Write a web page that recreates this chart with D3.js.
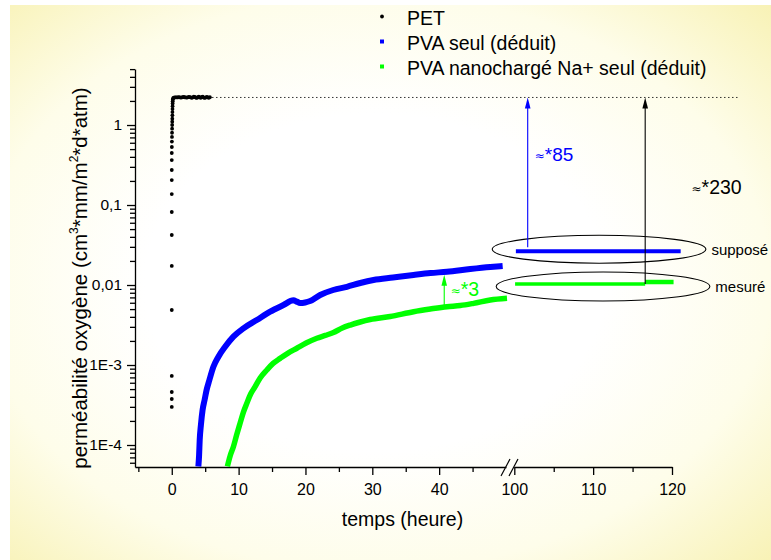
<!DOCTYPE html>
<html>
<head>
<meta charset="utf-8">
<script src="https://cdn.jsdelivr.net/npm/d3@7"></script>
<style>
  html, body { margin: 0; padding: 0; background: #ffffff; }
  svg { display: block; font-family: "Liberation Sans", Arial, sans-serif; }
</style>
</head>
<body>
<svg id="chart" width="771" height="560"></svg>
<script>
// ---- Data -------------------------------------------------------------
// PET (measured): time in hours, permeability
const petTime = [0, 0, 0, 0, 0, 0, 0, 0, 0, 0, 0, 0, 0, 0.01,
  0.02, 0.03, 0.04, 0.05, 0.06, 0.07, 0.08, 0.09, 0.1, 0.11, 0.12, 0.13, 0.14, 0.16, 0.2,
  0.3, 0.45, 0.6, 0.75, 0.9, 1.05, 1.2, 1.35, 1.5, 1.65, 1.8, 1.95, 2.1, 2.25, 2.4, 2.55,
  2.7, 2.85, 3.0, 3.15, 3.3, 3.45, 3.6, 3.75, 3.9, 4.05, 4.2, 4.35, 4.5, 4.65, 4.8, 4.95,
  5.1, 5.25, 5.4, 5.55, 5.7];
const petValue = [2.99e-4, 3.76e-4, 4.6e-4, 7.3e-4, 4.87e-3, 0.0173, 0.0422, 0.0818, 0.137,
  0.205, 0.274, 0.365, 0.447, 0.531,
  0.62, 0.71, 0.8, 0.9, 1.0, 1.1, 1.2, 1.32, 1.45, 1.58, 1.72, 1.86, 1.98, 2.08, 2.16,
  2.2, 2.21, 2.22, 2.22, 2.21, 2.23, 2.22, 2.2, 2.21, 2.23, 2.24, 2.22, 2.21, 2.2, 2.22, 2.25,
  2.23, 2.21, 2.19, 2.22, 2.26, 2.24, 2.2, 2.18, 2.23, 2.27, 2.21, 2.19, 2.24, 2.26, 2.2, 2.18,
  2.22, 2.25, 2.21, 2.19, 2.23];

// PVA seul (déduit)
const pvaTime = [3.98, 4.09, 4.18, 4.36, 4.61, 4.91, 5.21, 5.63, 6.23, 6.98, 7.98, 9.22,
  10.72, 12.72, 14.72, 16.71, 18.2, 18.7, 19.2, 19.96, 20.7, 22.2, 24.15, 26.2, 28.2,
  30.18, 33.1, 36.17, 38.7, 41.17, 44.66, 47.65, 49.5];
const pvaValue = [5.4e-5, 7.5e-5, 1.155e-4, 1.78e-4, 2.74e-4, 3.65e-4, 4.87e-4, 6.5e-4,
  9.5e-4, 1.27e-3, 1.69e-3, 2.26e-3, 2.87e-3, 3.65e-3, 4.64e-3, 5.62e-3, 6.45e-3, 6.2e-3,
  5.95e-3, 6.05e-3, 6.3e-3, 7.5e-3, 8.66e-3, 9.5e-3, 0.0106, 0.01155, 0.0124, 0.01334,
  0.0141, 0.01466, 0.01585, 0.0168, 0.01729];

// PVA nanochargé Na+ seul (déduit)
const nanoTime = [8.32, 8.73, 9.22, 9.7, 10.22, 10.72, 11.23, 11.8, 12.47, 13.22, 14.22,
  15.16, 16.21, 17.4, 18.71, 20.1, 21.7, 22.95, 24.19, 25.5, 26.7, 28.2, 29.68, 32.67,
  36.17, 38.67, 41.17, 43.16, 45.15, 47.65, 50.15];
const nanoValue = [5.4e-5, 7.29e-5, 9.52e-5, 1.33e-4, 1.87e-4, 2.58e-4, 3.32e-4, 4.34e-4,
  5.36e-4, 6.88e-4, 8.66e-4, 1.047e-3, 1.21e-3, 1.41e-3, 1.62e-3, 1.88e-3, 2.16e-3,
  2.34e-3, 2.55e-3, 2.9e-3, 3.16e-3, 3.45e-3, 3.7e-3, 4.04e-3, 4.64e-3, 5.01e-3, 5.36e-3,
  5.54e-3, 5.9e-3, 6.49e-3, 6.82e-3];

// Axis ticks
const xTicksLeft = [0, 10, 20, 30, 40];
const xMinorLeft = [-5, 5, 15, 25, 35, 45];
const xTicksRight = [100, 110, 120];
const xMinorRight = [105, 115];
const yTicks = [1e-4, 1e-3, 1e-2, 1e-1, 1];
const yTickLabels = ["1E-4", "1E-3", "0,01", "0,1", "1"];

// Legend
const legendLabels = ["PET", "PVA seul (déduit)", "PVA nanochargé Na+ seul (déduit)"];

// Reference levels used by the annotations
const petPlateau = 2.21;          // PET steady state
const supposeValue = 0.0265;      // PVA seul, expected
const mesureValue = [0.0103, 0.0109]; // PVA nanochargé, measured
const ratioLabels = ["*85", "*230", "*3"];

// ---- Layout -------------------------------------------------------------
const W = 771, H = 560;
const plot = { left: 135, right: 672, top: 69.1, bottom: 467 };
const FONT = '"Liberation Sans", Arial, sans-serif';
const BLUE = "#0000ff", GREEN = "#00ff00";

const svg = d3.select("#chart");

// Background: white centre fading to pale yellow at the edges
const defs = svg.append("defs");
const grad = defs.append("radialGradient").attr("id", "bg")
  .attr("cx", "48%").attr("cy", "50%").attr("r", "72%");
grad.append("stop").attr("offset", "0").attr("stop-color", "#ffffff");
grad.append("stop").attr("offset", "0.42").attr("stop-color", "#ffffff");
grad.append("stop").attr("offset", "0.72").attr("stop-color", "#fefdea");
grad.append("stop").attr("offset", "1").attr("stop-color", "#f8f2b6");
svg.append("rect").attr("x", 10).attr("y", 5).attr("width", W - 10).attr("height", H - 5)
  .attr("fill", "url(#bg)");

// ---- Scales (broken x axis) ----------------------------------------------
const xLeft = d3.scaleLinear().domain([-5.5, 50]).range([plot.left, 506]);
const xRight = d3.scaleLinear().domain([100, 120]).range([514.3, plot.right]);
const y = d3.scaleLog().domain([Math.pow(10, -4.275), 5]).range([plot.bottom, plot.top]);

// ---- Axes ---------------------------------------------------------------
function styleAxis(g, size) {
  g.selectAll("path, line").attr("stroke", "#000").attr("stroke-width", 1.3);
  g.selectAll("text").attr("font-family", FONT).attr("font-size", size).attr("fill", "#000");
}

function xAxis(scale, major, minor) {
  const gMaj = svg.append("g").attr("transform", `translate(0,${plot.bottom})`)
    .call(d3.axisBottom(scale).tickValues(major).tickSize(8).tickSizeOuter(0)
      .tickFormat(d3.format("d")));
  styleAxis(gMaj, 16);
  gMaj.selectAll("text").attr("y", 27.5).attr("dy", null);
  const gMin = svg.append("g").attr("transform", `translate(0,${plot.bottom})`)
    .call(d3.axisBottom(scale).tickValues(minor).tickSize(5).tickFormat(() => ""));
  gMin.select(".domain").remove();
  styleAxis(gMin, 16);
}
xAxis(xLeft, xTicksLeft, xMinorLeft);
xAxis(xRight, xTicksRight, xMinorRight);

// Axis break marks
const breakMarks = svg.append("g").attr("stroke", "#000").attr("stroke-width", 1.2);
[xLeft(50) - 0.5, xRight(100) - 0.8].forEach(cx => {
  breakMarks.append("line")
    .attr("x1", cx - 4.5).attr("y1", plot.bottom + 9)
    .attr("x2", cx + 4.5).attr("y2", plot.bottom - 8);
});

const gy = svg.append("g").attr("transform", `translate(${plot.left},0)`)
  .call(d3.axisLeft(y).tickValues(yTicks).tickFormat((d, i) => yTickLabels[i])
    .tickSize(8).tickPadding(5).tickSizeOuter(0));
styleAxis(gy, 15.5);

const yMinor = [];
for (let e = -5; e <= 0; e++) {
  for (let m = 2; m <= 9; m++) {
    const v = m * Math.pow(10, e);
    if (v >= y.domain()[0] && v <= y.domain()[1] * 1.0001) yMinor.push(v);
  }
}
const gyMin = svg.append("g").attr("transform", `translate(${plot.left},0)`)
  .call(d3.axisLeft(y).tickValues(yMinor).tickSize(5).tickFormat(() => ""));
gyMin.select(".domain").remove();
styleAxis(gyMin, 15.5);

// Axis titles
svg.append("text")
  .attr("x", (plot.left + plot.right) / 2 - 1).attr("y", 526)
  .attr("text-anchor", "middle").attr("font-family", FONT).attr("font-size", 19.5)
  .text("temps (heure)");

const yTitle = svg.append("text")
  .attr("transform", "translate(87,278) rotate(-90)")
  .attr("text-anchor", "middle").attr("font-family", FONT).attr("font-size", 20.5);
yTitle.append("tspan").text("perméabilité oxygène (cm");
yTitle.append("tspan").attr("font-size", 12).attr("dy", -9).text("3");
yTitle.append("tspan").attr("dy", 9).text("*mm/m");
yTitle.append("tspan").attr("font-size", 12).attr("dy", -9).text("2");
yTitle.append("tspan").attr("dy", 9).text("*d*atm)");

// ---- Series ---------------------------------------------------------------
const pet = petTime.map((t, i) => ({ t, v: petValue[i] }));
const pva = pvaTime.map((t, i) => ({ t, v: pvaValue[i] }));
const nano = nanoTime.map((t, i) => ({ t, v: nanoValue[i] }));

const line = d3.line().x(d => xLeft(d.t)).y(d => y(d.v)).curve(d3.curveMonotoneX);

svg.append("path").datum(nano).attr("d", line)
  .attr("fill", "none").attr("stroke", GREEN).attr("stroke-width", 5.5)
  .attr("stroke-linejoin", "round");
svg.append("path").datum(pva).attr("d", line)
  .attr("fill", "none").attr("stroke", BLUE).attr("stroke-width", 6)
  .attr("stroke-linejoin", "round");

svg.append("g").selectAll("circle").data(pet).join("circle")
  .attr("cx", d => xLeft(d.t)).attr("cy", d => y(d.v)).attr("r", 1.9).attr("fill", "#000");

// ---- Annotations ------------------------------------------------------------
function arrow(x, yFrom, yTo, color) {
  const g = svg.append("g");
  g.append("line").attr("x1", x).attr("x2", x).attr("y1", yFrom).attr("y2", yTo + 8)
    .attr("stroke", color).attr("stroke-width", 1.1);
  g.append("path")
    .attr("d", `M${x},${yTo} L${x - 2.8},${yTo + 11} L${x + 2.8},${yTo + 11} Z`)
    .attr("fill", color);
}

// PET level reference (dotted)
svg.append("line")
  .attr("x1", xLeft(6.05)).attr("x2", xRight(128.6))
  .attr("y1", y(petPlateau)).attr("y2", y(petPlateau))
  .attr("stroke", "#000").attr("stroke-width", 1).attr("stroke-dasharray", "1.2,2.8");

// Expected / measured levels on the right side of the break
svg.append("line")
  .attr("x1", xRight(100.2)).attr("x2", xRight(121.1))
  .attr("y1", y(supposeValue)).attr("y2", y(supposeValue))
  .attr("stroke", BLUE).attr("stroke-width", 4);
svg.append("line")
  .attr("x1", xRight(100.1)).attr("x2", xRight(116.6))
  .attr("y1", y(mesureValue[0])).attr("y2", y(mesureValue[0]))
  .attr("stroke", GREEN).attr("stroke-width", 3.5);
svg.append("line")
  .attr("x1", xRight(116.6)).attr("x2", xRight(120.2))
  .attr("y1", y(mesureValue[1])).attr("y2", y(mesureValue[1]))
  .attr("stroke", GREEN).attr("stroke-width", 4.5);

// Ellipses around the two levels
function ringAround(t0, t1, v0, v1) {
  const xa = xRight(t0), xb = xRight(t1), ya = y(v1), yb = y(v0);
  svg.append("ellipse")
    .attr("cx", (xa + xb) / 2).attr("cy", (ya + yb) / 2)
    .attr("rx", (xb - xa) / 2).attr("ry", (yb - ya) / 2)
    .attr("fill", "none").attr("stroke", "#000").attr("stroke-width", 1.1);
  return { right: xb, cy: (ya + yb) / 2 };
}
const ringS = ringAround(97.2, 124.3, 0.0187, 0.0418);
const ringM = ringAround(97.7, 124.8, 0.00631, 0.01454);

svg.append("text").attr("x", ringS.right + 5.5).attr("y", ringS.cy).attr("dy", "0.4em")
  .attr("font-family", FONT).attr("font-size", 15).text("supposé");
svg.append("text").attr("x", ringM.right + 5.5).attr("y", ringM.cy).attr("dy", "0.35em")
  .attr("font-family", FONT).attr("font-size", 15).text("mesuré");

// Ratio arrows
const xBlueArrow = xRight(101.7), xBlackArrow = xRight(116.6), xGreenArrow = xLeft(40.76);
arrow(xBlueArrow, y(supposeValue) - 4, y(petPlateau), BLUE);
arrow(xBlackArrow, y(mesureValue[0]), y(petPlateau), "#000");
arrow(xGreenArrow, y(5.3e-3), y(0.0146) + 3, GREEN);

function ratioText(x, yBase, label, color, size) {
  const t = svg.append("text").attr("x", x).attr("y", yBase)
    .attr("font-family", FONT).attr("fill", color);
  t.append("tspan").attr("font-family", "DejaVu Sans").attr("font-size", 12)
    .attr("dy", -1).text("≈");
  t.append("tspan").attr("font-size", size).attr("dy", 1).text(label);
}
ratioText(xBlueArrow + 7, 161, ratioLabels[0], BLUE, 19);
ratioText(691.5, 193.5, ratioLabels[1], "#000", 19.5);
ratioText(xGreenArrow + 6.5, 295.7, ratioLabels[2], GREEN, 19.5);

// ---- Legend -------------------------------------------------------------------
const legendColors = ["#000", BLUE, GREEN];
const legend = svg.append("g");
legendLabels.forEach((label, i) => {
  const cy = 16.5 + i * 25;
  if (i === 0) {
    legend.append("circle").attr("cx", 382).attr("cy", cy).attr("r", 1.9).attr("fill", "#000");
  } else {
    legend.append("rect").attr("x", 380).attr("y", cy - 2).attr("width", 4).attr("height", 4)
      .attr("fill", legendColors[i]);
  }
  legend.append("text").attr("x", 407).attr("y", cy + 8.3)
    .attr("font-family", FONT).attr("font-size", 19.5).text(label);
});
</script>
</body>
</html>
